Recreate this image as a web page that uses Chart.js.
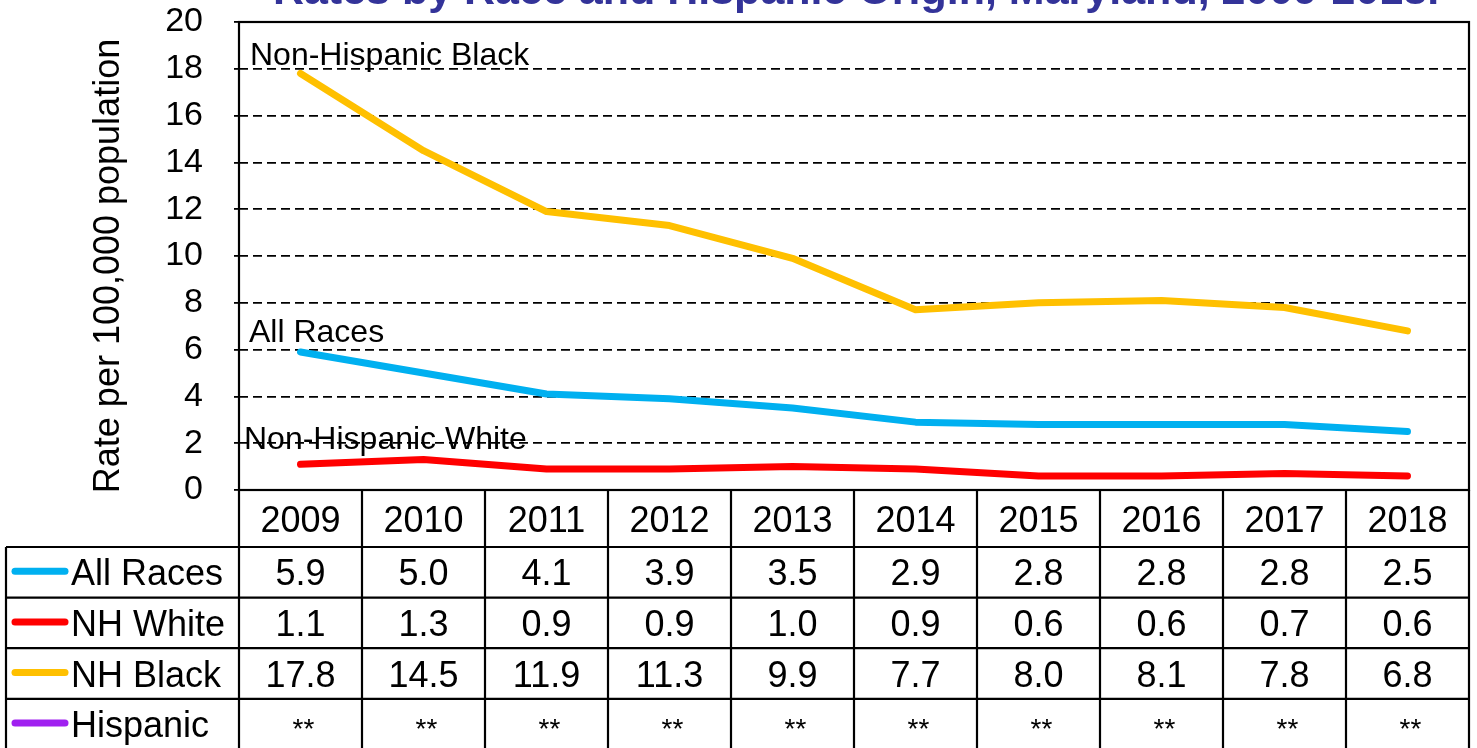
<!DOCTYPE html>
<html>
<head>
<meta charset="utf-8">
<title>HIV rates by race and Hispanic origin, Maryland</title>
<style>
  html, body { margin: 0; padding: 0; background: #ffffff; }
  #wrap { width: 1477px; height: 748px; position: relative; }
</style>
<script src="https://cdn.jsdelivr.net/npm/chart.js@4.4.1/dist/chart.umd.min.js"></script>
</head>
<body>
<div id="wrap"><canvas id="chart" width="1477" height="748"></canvas></div>
<script>
// Years shown along the bottom / header row of the data table
const years = ['2009', '2010', '2011', '2012', '2013', '2014', '2015', '2016', '2017', '2018'];

// Rates per 100,000 population
const allRaces = [5.9, 5.0, 4.1, 3.9, 3.5, 2.9, 2.8, 2.8, 2.8, 2.5];
const nhWhite  = [1.1, 1.3, 0.9, 0.9, 1.0, 0.9, 0.6, 0.6, 0.7, 0.6];
const nhBlack  = [17.8, 14.5, 11.9, 11.3, 9.9, 7.7, 8.0, 8.1, 7.8, 6.8];
const hispanic = [null, null, null, null, null, null, null, null, null, null]; // suppressed (**)

const seriesNames = ['All Races', 'NH White', 'NH Black', 'Hispanic'];
const lineLabels = ['All Races', 'Non-Hispanic White', 'Non-Hispanic Black'];

const yMin = 0;
const yMax = 20;
const yStep = 2;

const titleText = 'Rates by Race and Hispanic Origin, Maryland, 2009-2018.';
const yAxisTitle = 'Rate per 100,000 population';
const suppressedMark = '**';

const FONT = "'Liberation Sans', Arial, Helvetica, sans-serif";
const COLORS = ['#00B0F0', '#FF0000', '#FFC000', '#A020F0'];

function line(ctx, x1, y1, x2, y2) {
  ctx.beginPath();
  ctx.moveTo(x1, y1);
  ctx.lineTo(x2, y2);
  ctx.stroke();
}

// Title, axis title, inline series labels, frame and the data table beneath the plot
const decorations = {
  id: 'decorations',
  afterDatasetsDraw(chart) {
    const { ctx, chartArea: a, scales: { x, y } } = chart;
    ctx.save();

    // title (only its lower part fits on the canvas)
    ctx.fillStyle = '#333399';
    ctx.font = 'bold 43px ' + FONT;
    ctx.textAlign = 'center';
    ctx.textBaseline = 'alphabetic';
    ctx.fillText(titleText, (a.left + a.right) / 2 + 2, 4);

    // vertical axis title
    ctx.save();
    ctx.translate(119, 266);
    ctx.rotate(-Math.PI / 2);
    ctx.fillStyle = '#000';
    ctx.font = '36px ' + FONT;
    ctx.textAlign = 'center';
    ctx.textBaseline = 'alphabetic';
    ctx.fillText(yAxisTitle, 0, 0);
    ctx.restore();

    // inline labels next to the lines
    ctx.fillStyle = '#000';
    ctx.font = '32px ' + FONT;
    ctx.textAlign = 'left';
    ctx.fillText(lineLabels[2], a.left + 11, y.getPixelForValue(18) - 4);
    ctx.fillText(lineLabels[0], a.left + 10, y.getPixelForValue(6) - 8);
    ctx.fillText(lineLabels[1], a.left + 5, y.getPixelForValue(2) + 6);

    // table geometry
    const half = (x.getPixelForValue(1) - x.getPixelForValue(0)) / 2;
    const colL = x.getPixelForValue(0) - half;
    const colR = x.getPixelForValue(years.length - 1) + half;
    const tableLeft = 6;
    const headerBottom = a.bottom + 57;
    const rowH = 50.6;
    const rows = [0, 1, 2, 3].map(i => headerBottom + i * rowH);
    const bottom = chart.height + 2;

    ctx.strokeStyle = '#000';
    ctx.lineWidth = 2.2;
    // plot frame
    ctx.strokeRect(a.left, a.top, a.right - a.left, a.bottom - a.top);
    // header row top = plot bottom; horizontal row separators
    line(ctx, colL, a.bottom, colR, a.bottom);
    rows.forEach(r => line(ctx, tableLeft, r, colR, r));
    line(ctx, tableLeft, bottom - 1, colR, bottom - 1);
    // vertical separators
    line(ctx, tableLeft, headerBottom, tableLeft, bottom);
    for (let i = 0; i <= years.length; i++) {
      const xx = colL + i * 2 * half;
      line(ctx, xx, a.bottom, xx, bottom);
    }

    // header years
    ctx.fillStyle = '#000';
    ctx.font = '36px ' + FONT;
    ctx.textAlign = 'center';
    years.forEach((yr, i) => ctx.fillText(yr, x.getPixelForValue(i), a.bottom + 42));

    // series rows
    const values = [allRaces, nhWhite, nhBlack, hispanic];
    values.forEach((vals, r) => {
      const top = rows[r];
      const mid = top + rowH / 2;
      const base = mid + 13;
      // legend swatch
      ctx.strokeStyle = COLORS[r];
      ctx.lineWidth = 7;
      ctx.lineCap = 'round';
      line(ctx, 15, mid - 1, 65, mid - 1);
      ctx.lineCap = 'butt';
      // series name
      ctx.fillStyle = '#000';
      ctx.font = '36px ' + FONT;
      ctx.textAlign = 'left';
      ctx.fillText(seriesNames[r], 71, base);
      // values
      ctx.textAlign = 'center';
      vals.forEach((v, i) => {
        if (v === null) {
          ctx.font = '28px ' + FONT;
          ctx.fillText(suppressedMark, x.getPixelForValue(i) + 3, base + 1);
        } else {
          ctx.font = '36px ' + FONT;
          ctx.fillText(v.toFixed(1), x.getPixelForValue(i), base);
        }
      });
    });

    ctx.restore();
  }
};

const lineStyle = {
  borderWidth: 7,
  pointRadius: 0,
  pointHoverRadius: 0,
  borderCapStyle: 'round',
  borderJoinStyle: 'round',
  tension: 0,
  fill: false
};

new Chart(document.getElementById('chart'), {
  type: 'line',
  data: {
    labels: years,
    datasets: [
      Object.assign({ label: seriesNames[0], data: allRaces, borderColor: COLORS[0], backgroundColor: COLORS[0] }, lineStyle),
      Object.assign({ label: seriesNames[1], data: nhWhite, borderColor: COLORS[1], backgroundColor: COLORS[1] }, lineStyle),
      Object.assign({ label: seriesNames[2], data: nhBlack, borderColor: COLORS[2], backgroundColor: COLORS[2] }, lineStyle),
      Object.assign({ label: seriesNames[3], data: hispanic, borderColor: COLORS[3], backgroundColor: COLORS[3] }, lineStyle)
    ]
  },
  options: {
    responsive: false,
    devicePixelRatio: 1,
    animation: false,
    layout: { padding: { left: 0, right: 8, top: 22, bottom: 258 } },
    plugins: {
      legend: { display: false },
      title: { display: false },
      tooltip: { enabled: false }
    },
    scales: {
      x: {
        type: 'category',
        offset: true,
        display: false
      },
      y: {
        min: yMin,
        max: yMax,
        ticks: {
          stepSize: yStep,
          color: '#000',
          padding: 31,
          font: { family: FONT, size: 34 }
        },
        grid: {
          color: c => (c.tick && (c.tick.value === yMin || c.tick.value === yMax)) ? 'rgba(0,0,0,0)' : '#000',
          lineWidth: 1.8,
          tickLength: 5,
          tickColor: '#000',
          tickWidth: 1.8
        },
        border: { display: false, dash: [9, 5] },
        afterFit(scale) {
          scale.width = 239;
          scale.paddingTop = 0;
          scale.paddingBottom = 0;
        }
      }
    }
  },
  plugins: [decorations]
});
</script>
</body>
</html>
